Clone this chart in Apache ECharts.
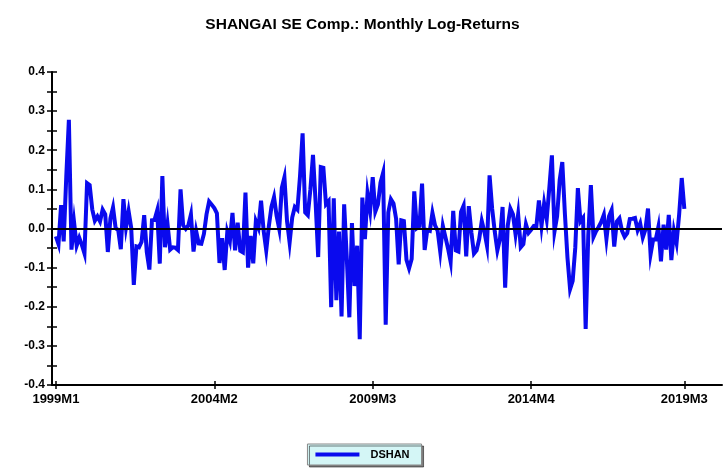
<!DOCTYPE html>
<html>
<head>
<meta charset="utf-8">
<title>SHANGAI SE Comp.: Monthly Log-Returns</title>
<script src="https://cdn.jsdelivr.net/npm/echarts@6/dist/echarts.min.js"></script>
<style>
html, body { margin: 0; padding: 0; background: #fff; }
#chart { width: 725px; height: 470px; }
</style>
</head>
<body>
<div id="chart"></div>
<script>
// monthly log-returns, 1999M1 .. 2019M3 (one row per year)
var dshan = [
  -0.020, -0.040, 0.060, -0.033, 0.133, 0.278, -0.054, 0.016, -0.044, -0.024, -0.042, -0.064,
  0.116, 0.111, 0.049, 0.020, 0.031, 0.018, 0.048, 0.036, -0.060, 0.026, 0.054, 0.001,
  -0.004, -0.053, 0.075, 0.003, 0.044, 0.002, -0.144, -0.046, -0.048, -0.034, 0.034, -0.060,
  -0.105, 0.021, 0.022, 0.046, -0.090, 0.134, -0.048, 0.011, -0.054, -0.048, -0.049, -0.055,
  0.100, 0.008, -0.001, 0.008, 0.036, -0.059, -0.006, -0.038, -0.039, -0.014, 0.036, 0.069,
  0.061, 0.052, 0.039, -0.088, -0.025, -0.106, -0.009, -0.032, 0.040, -0.056, 0.015, -0.057,
  -0.061, 0.092, -0.100, -0.019, -0.089, 0.019, 0.002, 0.071, -0.006, -0.056, 0.006, 0.055,
  0.080, 0.032, -0.001, 0.104, 0.131, 0.019, -0.036, 0.028, 0.055, 0.048, 0.133, 0.243,
  0.041, 0.034, 0.100, 0.188, 0.068, -0.073, 0.157, 0.155, 0.062, 0.070, -0.201, 0.077,
  -0.183, -0.008, -0.225, 0.062, -0.073, -0.227, 0.014, -0.147, -0.044, -0.283, 0.079, -0.027,
  0.089, 0.045, 0.131, 0.043, 0.061, 0.117, 0.142, -0.246, 0.041, 0.075, 0.064, 0.025,
  -0.092, 0.021, 0.019, -0.080, -0.102, -0.078, 0.095, 0.001, 0.006, 0.115, -0.055, -0.004,
  -0.006, 0.040, 0.008, -0.006, -0.059, 0.007, -0.022, -0.051, -0.085, 0.045, -0.056, -0.059,
  0.042, 0.058, -0.071, 0.057, -0.010, -0.064, -0.056, -0.027, 0.019, -0.008, -0.044, 0.136,
  0.050, -0.008, -0.056, -0.027, 0.055, -0.151, 0.007, 0.051, 0.036, -0.015, 0.036, -0.048,
  -0.040, 0.011, -0.011, -0.003, 0.006, 0.004, 0.072, 0.007, 0.064, 0.024, 0.103, 0.187,
  -0.008, 0.031, 0.124, 0.170, 0.038, -0.075, -0.155, -0.134, -0.049, 0.103, 0.018, 0.027,
  -0.257, -0.018, 0.111, -0.022, -0.007, 0.004, 0.017, 0.035, -0.027, 0.031, 0.047, -0.046,
  0.018, 0.026, -0.006, -0.021, -0.012, 0.024, 0.025, 0.027, -0.004, 0.013, -0.023, -0.003,
  0.051, -0.066, -0.028, -0.028, 0.004, -0.084, 0.010, -0.054, 0.035, -0.081, -0.006, -0.037,
  0.036, 0.129, 0.050
];

// x tick positions (month index from 1999M1) and their labels
var tickPos = [0, 61, 122, 183, 242];
var tickLabels = ['1999M1', '2004M2', '2009M3', '2014M4', '2019M3'];

var seriesName = 'DSHAN';
var font = 'Liberation Sans, Arial, sans-serif';
var black = { color: '#000', width: 1.5 };

var myChart = echarts.init(document.getElementById('chart'));

// x and y axes are drawn twice: once with outside ticks + labels, once with inside ticks,
// so the tick marks cross the axis line like in the original
function xAx(inside) {
    return {
        type: 'value',
        min: -1.5,
        max: 256.5,
        position: 'bottom',
        splitLine: { show: false },
        axisLine: { show: !inside, onZero: false, lineStyle: { color: '#000', width: 2 } },
        axisTick: { customValues: tickPos, inside: inside, length: 4, lineStyle: black },
        axisLabel: {
            show: !inside,
            customValues: tickPos,
            margin: 8,
            fontSize: 13,
            fontWeight: 'bold',
            fontFamily: font,
            color: '#000',
            formatter: function (v) {
                var k = tickPos.indexOf(Math.round(v));
                return k >= 0 ? tickLabels[k] : '';
            }
        }
    };
}

function yAx(inside) {
    return {
        type: 'value',
        min: -0.4,
        max: 0.4,
        interval: 0.1,
        position: 'left',
        splitLine: { show: false },
        axisLine: { show: !inside, onZero: false, lineStyle: { color: '#000', width: 2 } },
        axisTick: { show: true, inside: inside, length: 5, lineStyle: black },
        minorTick: { show: true, splitNumber: 2, length: 5, lineStyle: black },
        axisLabel: {
            show: !inside,
            fontSize: 12,
            fontWeight: 'bold',
            fontFamily: font,
            color: '#000',
            margin: 7,
            formatter: function (v) { return v.toFixed(1); }
        }
    };
}

var option = {
    animation: false,
    backgroundColor: '#fff',
    title: {
        text: 'SHANGAI SE Comp.: Monthly Log-Returns',
        left: 'center',
        top: 12,
        textStyle: { fontSize: 15.5, fontWeight: 'bold', fontFamily: font, color: '#000' }
    },
    legend: {
        data: [seriesName],
        left: 'center',
        bottom: 5,
        icon: 'rect',
        itemWidth: 44,
        itemHeight: 4,
        itemGap: 10,
        padding: [5, 12, 5, 8],
        backgroundColor: '#d4f6f6',
        borderColor: '#888',
        borderWidth: 1,
        shadowColor: 'rgba(0,0,0,0.5)',
        shadowOffsetX: 2,
        shadowOffsetY: 2,
        textStyle: { fontSize: 11, fontWeight: 'bold', fontFamily: font, color: '#000', padding: [0, 0, 0, 6] }
    },
    grid: { left: 52, right: 3, top: 72, bottom: 85 },
    xAxis: [xAx(false), xAx(true)],
    yAxis: [yAx(false), yAx(true)],
    series: [{
        name: seriesName,
        type: 'line',
        data: dshan.map(function (v, i) { return [i, v]; }),
        showSymbol: false,
        symbol: 'none',
        color: '#0a0aee',
        lineStyle: { color: '#0a0aee', width: 4, join: 'miter' },
        markLine: {
            silent: true,
            symbol: ['none', 'none'],
            label: { show: false },
            lineStyle: { color: '#000', width: 2, type: 'solid' },
            data: [{ yAxis: 0 }]
        }
    }]
};

myChart.setOption(option);
</script>
</body>
</html>
